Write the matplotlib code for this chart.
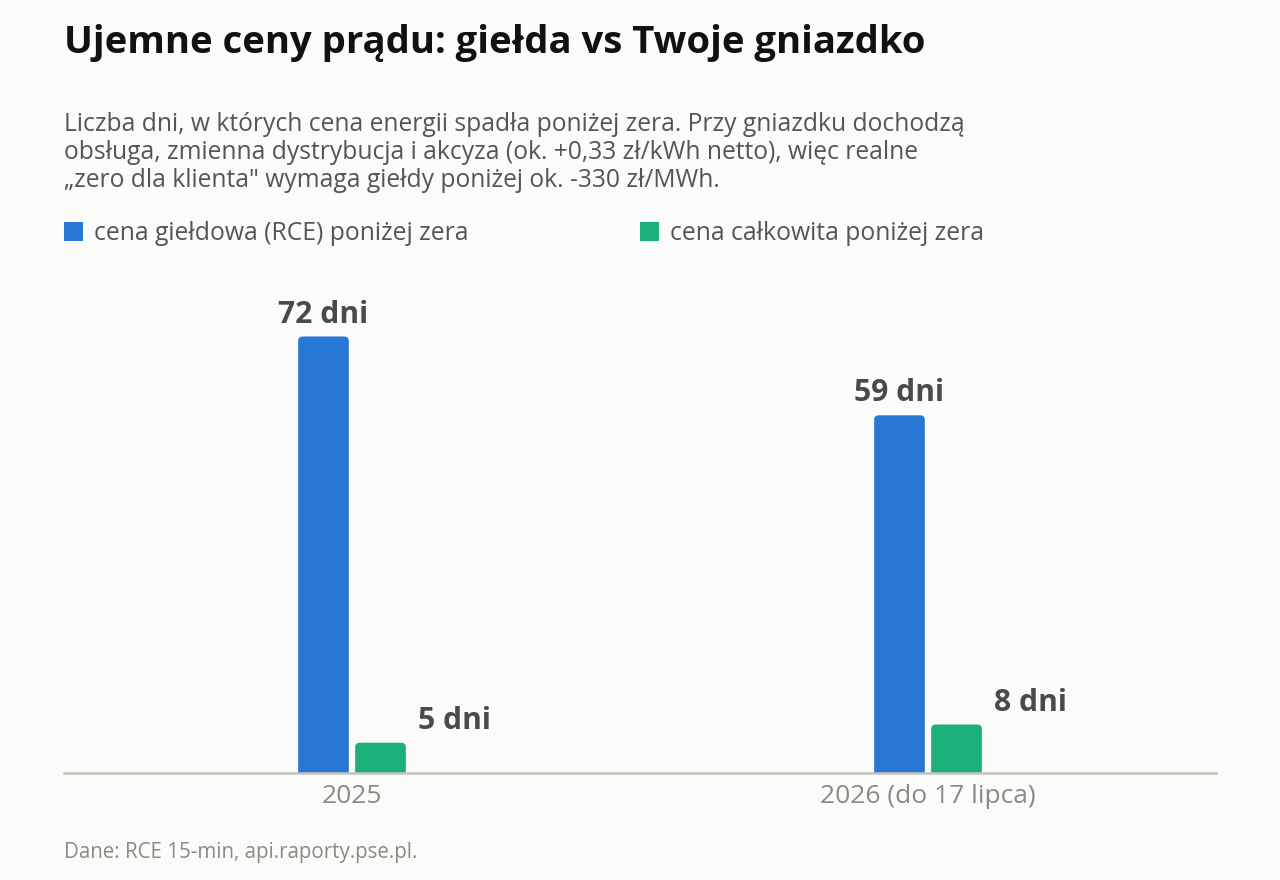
import matplotlib
matplotlib.use("Agg")
import matplotlib.pyplot as plt
from matplotlib.patches import FancyBboxPatch, Rectangle

# dane
categories = ["2025", "2026 (do 17 lipca)"]
rce_days = [72, 59]
total_days = [5, 8]
series_names = ["cena giełdowa (RCE) poniżej zera", "cena całkowita poniżej zera"]
colors = ["#2878d6", "#1bb07a"]

W, H = 1280, 880
BG = "#fbfbf9"
plt.rcParams["font.family"] = ["Open Sans", "DejaVu Sans"]

fig = plt.figure(figsize=(W / 100, H / 100), dpi=100, facecolor=BG)


def px(x, y):
    return x / W, 1 - y / H


# axes: x 64..1216, baseline y=773, top at y=288
ax = fig.add_axes([64 / W, 1 - 773 / H, (1216 - 64) / W, (773 - 288) / H])
ax.set_facecolor(BG)
ax.set_xlim(-0.5, 1.5)
ax.set_ylim(0, 80)

bw = 0.088
off = 0.0495
xs = range(len(categories))

for vals, sign, col in [(rce_days, -1, colors[0]), (total_days, 1, colors[1])]:
    bars = ax.bar([x + sign * off for x in xs], vals, width=bw, color=col, alpha=0)
    for b, v in zip(bars, vals):
        x0 = b.get_x()
        # zaokrąglona góra, dół schowany pod osią
        p = FancyBboxPatch((x0, -3), bw, v + 3,
                           boxstyle="round,pad=0,rounding_size=0.008",
                           mutation_aspect=95, facecolor=col, edgecolor="none")
        ax.add_patch(p)
        xc = x0 + bw / 2
        if sign < 0:
            ax.annotate(f"{v} dni", (xc, v), xytext=(0, 10), textcoords="offset points",
                        ha="center", va="baseline", fontsize=21.7, fontweight="bold",
                        color="#4a4a4a")
        else:
            ax.annotate(f"{v} dni", (xc, v), xytext=(27, 10), textcoords="offset points",
                        ha="left", va="baseline", fontsize=21.7, fontweight="bold",
                        color="#4a4a4a")

ax.set_xticks(list(xs))
ax.set_xticklabels(categories, fontsize=19, color="#8a8a86")
ax.tick_params(axis="x", length=0, pad=8)
ax.set_yticks([])
for s in ["top", "right", "left"]:
    ax.spines[s].set_visible(False)
ax.spines["bottom"].set_color("#c4c4ba")
ax.spines["bottom"].set_linewidth(1.8)

# tytuł i opis
fig.text(*px(64, 53), "Ujemne ceny prądu: giełda vs Twoje gniazdko",
         fontsize=27.5, fontweight="bold", color="#111111", va="baseline")
sub = ["Liczba dni, w których cena energii spadła poniżej zera. Przy gniazdku dochodzą",
       "obsługa, zmienna dystrybucja i akcyza (ok. +0,33 zł/kWh netto), więc realne",
       "„zero dla klienta\" wymaga giełdy poniżej ok. -330 zł/MWh."]
for i, line in enumerate(sub):
    fig.text(*px(64, 131 + 28 * i), line, fontsize=17.7, color="#555555", va="baseline")

# legenda
for (lx, name, col) in [(64, series_names[0], colors[0]), (640, series_names[1], colors[1])]:
    fig.patches.append(Rectangle(px(lx, 241), 19 / W, 19 / H, transform=fig.transFigure,
                                 facecolor=col, edgecolor="none"))
    fig.text(*px(lx + 30, 240), name, fontsize=17.8, color="#555555", va="baseline")

fig.text(*px(64, 858), "Dane: RCE 15-min, api.raporty.pse.pl.", fontsize=14.8,
         color="#8a8a86", va="baseline")

fig.savefig("out.png", dpi=100, facecolor=BG)
